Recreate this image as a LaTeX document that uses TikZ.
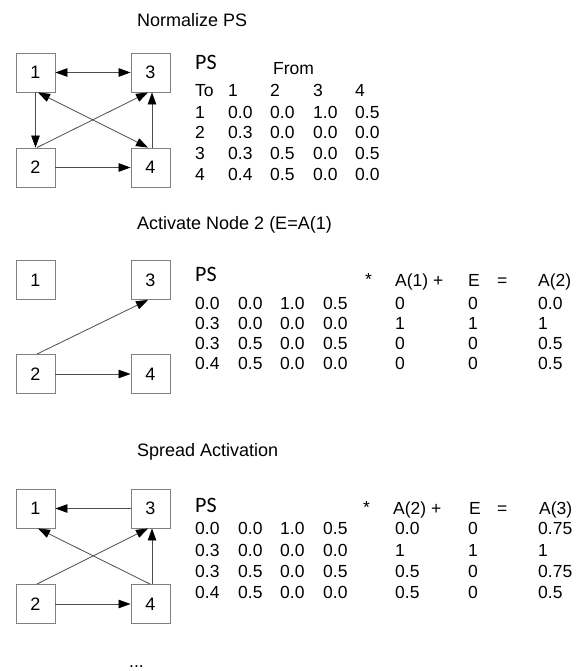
\documentclass[tikz,border=0pt]{standalone}
\usepackage{fontspec}
\setmainfont{Liberation Sans}
\newfontfamily\psfont{Carlito}
\usetikzlibrary{arrows.meta}

\tikzset{
  nodebox/.style={draw=black!50, line width=0.9pt, minimum size=39pt, inner sep=0pt,
                  font=\fontsize{18}{20}\selectfont},
  arr/.style={draw=black!70, line width=0.8pt,
              -{Triangle[length=12pt,width=8.5pt,fill=black,color=black]}},
  darr/.style={draw=black!70, line width=0.8pt,
               {Triangle[length=12pt,width=8.5pt,fill=black,color=black]}-{Triangle[length=12pt,width=8.5pt,fill=black,color=black]}},
  cell/.style={anchor=west, inner sep=0pt, text height=12.5pt, text depth=0pt,
               font=\fontsize{17.5}{20}\selectfont},
  heading/.style={anchor=west, inner sep=0pt, text height=13pt, text depth=0pt,
                  font=\fontsize{18}{20}\selectfont},
  pslabel/.style={anchor=west, inner sep=0pt, text height=14pt, text depth=0pt,
                  font=\psfont\fontsize{22}{24}\selectfont},
}

\begin{document}
\begin{tikzpicture}[x=1pt,y=-1pt]
\useasboundingbox (0,0) rectangle (584,671);

% ---------- Normalize PS ----------
\node[heading] (t1) at (137,20) {Normalize PS};

\node[nodebox] (a1) at (35.5,72.5) {1};
\node[nodebox] (a3) at (150.5,72.5) {3};
\node[nodebox] (a2) at (35.5,167.5) {2};
\node[nodebox] (a4) at (150.5,167.5) {4};

\draw[darr] (a1.east) -- (a3.west);
\draw[arr] (a1.south) -- (a2.north);
\draw[arr] ([xshift=1.5pt]a2.north) -- ([xshift=-2.5pt]a3.south);
\draw[darr] ([xshift=2.5pt]a1.south) -- ([xshift=-2.5pt]a4.north);
\draw[arr] ([xshift=1.5pt]a4.north) -- ([xshift=1.5pt]a3.south);
\draw[arr] (a2.east) -- (a4.west);

\node[pslabel] (ps1) at (195,63) {PS};
\node[cell] (from1) at (273,68) {From};
\node[cell] (to1) at (195,90) {To};
\foreach \c/\x in {1/228,2/270,3/313,4/355}
  \node[cell] (h1\c) at (\x,90) {\c};
\foreach \r/\y/\va/\vb/\vc/\vd in {1/112/0.0/0.0/1.0/0.5, 2/132/0.3/0.0/0.0/0.0,
                                   3/153/0.3/0.5/0.0/0.5, 4/174/0.4/0.5/0.0/0.0}{
  \node[cell] (r1\r) at (195,\y) {\r};
  \node[cell] (m1\r a) at (228,\y) {\va};
  \node[cell] (m1\r b) at (270,\y) {\vb};
  \node[cell] (m1\r c) at (313,\y) {\vc};
  \node[cell] (m1\r d) at (355,\y) {\vd};
}

% ---------- Activate Node 2 ----------
\node[heading] (t2) at (137,223) {Activate Node 2 (E=A(1)};

\node[nodebox] (b1) at (35.5,280) {1};
\node[nodebox] (b3) at (150.5,280) {3};
\node[nodebox] (b2) at (35.5,374) {2};
\node[nodebox] (b4) at (150.5,374) {4};

\draw[arr] ([xshift=1.5pt]b2.north) -- ([xshift=-2.5pt]b3.south);
\draw[arr] (b2.east) -- (b4.west);

\node[pslabel] (ps2) at (195,274) {PS};
\node[cell] (star2) at (365,279) {*};
\node[cell] (hv2) at (395,280) {A(1) +};
\node[cell] (he2) at (468,280) {E};
\node[cell] (heq2) at (497,280) {=};
\node[cell] (hr2) at (538,280) {A(2)};
\foreach \r/\y/\va/\vb/\vc/\vd/\ve/\vf/\vg in {
    1/303/0.0/0.0/1.0/0.5/0/0/0.0, 2/323/0.3/0.0/0.0/0.0/1/1/1,
    3/343/0.3/0.5/0.0/0.5/0/0/0.5, 4/363/0.4/0.5/0.0/0.0/0/0/0.5}{
  \node[cell] (m2\r a) at (195,\y) {\va};
  \node[cell] (m2\r b) at (238,\y) {\vb};
  \node[cell] (m2\r c) at (280,\y) {\vc};
  \node[cell] (m2\r d) at (323,\y) {\vd};
  \node[cell] (v2\r) at (395,\y) {\ve};
  \node[cell] (e2\r) at (468,\y) {\vf};
  \node[cell] (s2\r) at (538,\y) {\vg};
}

% ---------- Spread Activation ----------
\node[heading] (t3) at (137,450) {Spread Activation};

\node[nodebox] (c1) at (35.5,508.5) {1};
\node[nodebox] (c3) at (150.5,508.5) {3};
\node[nodebox] (c2) at (35.5,604) {2};
\node[nodebox] (c4) at (150.5,604) {4};

\draw[arr] (c3.west) -- (c1.east);
\draw[arr] ([xshift=-0.5pt]c4.north) -- ([xshift=2.5pt]c1.south);
\draw[arr] ([xshift=1.5pt]c2.north) -- ([xshift=-2.5pt]c3.south);
\draw[arr] ([xshift=1.5pt]c4.north) -- ([xshift=1.5pt]c3.south);
\draw[arr] (c2.east) -- (c4.west);

\node[pslabel] (ps3) at (195,505) {PS};
\node[cell] (star3) at (363,507) {*};
\node[cell] (hv3) at (393,508) {A(2) +};
\node[cell] (he3) at (469,508) {E};
\node[cell] (heq3) at (497,508) {=};
\node[cell] (hr3) at (539,508) {A(3)};
\foreach \r/\y/\va/\vb/\vc/\vd/\ve/\vf/\vg in {
    1/528/0.0/0.0/1.0/0.5/0.0/0/0.75, 2/550/0.3/0.0/0.0/0.0/1/1/1,
    3/571/0.3/0.5/0.0/0.5/0.5/0/0.75, 4/592/0.4/0.5/0.0/0.0/0.5/0/0.5}{
  \node[cell] (m3\r a) at (195,\y) {\va};
  \node[cell] (m3\r b) at (238,\y) {\vb};
  \node[cell] (m3\r c) at (280,\y) {\vc};
  \node[cell] (m3\r d) at (323,\y) {\vd};
  \node[cell] (v3\r) at (395,\y) {\ve};
  \node[cell] (e3\r) at (468,\y) {\vf};
  \node[cell] (s3\r) at (538,\y) {\vg};
}

\node[anchor=base west, inner sep=0pt, font=\fontsize{17.5}{20}\selectfont] (dots) at (129,667) {...};
\end{tikzpicture}
\end{document}
